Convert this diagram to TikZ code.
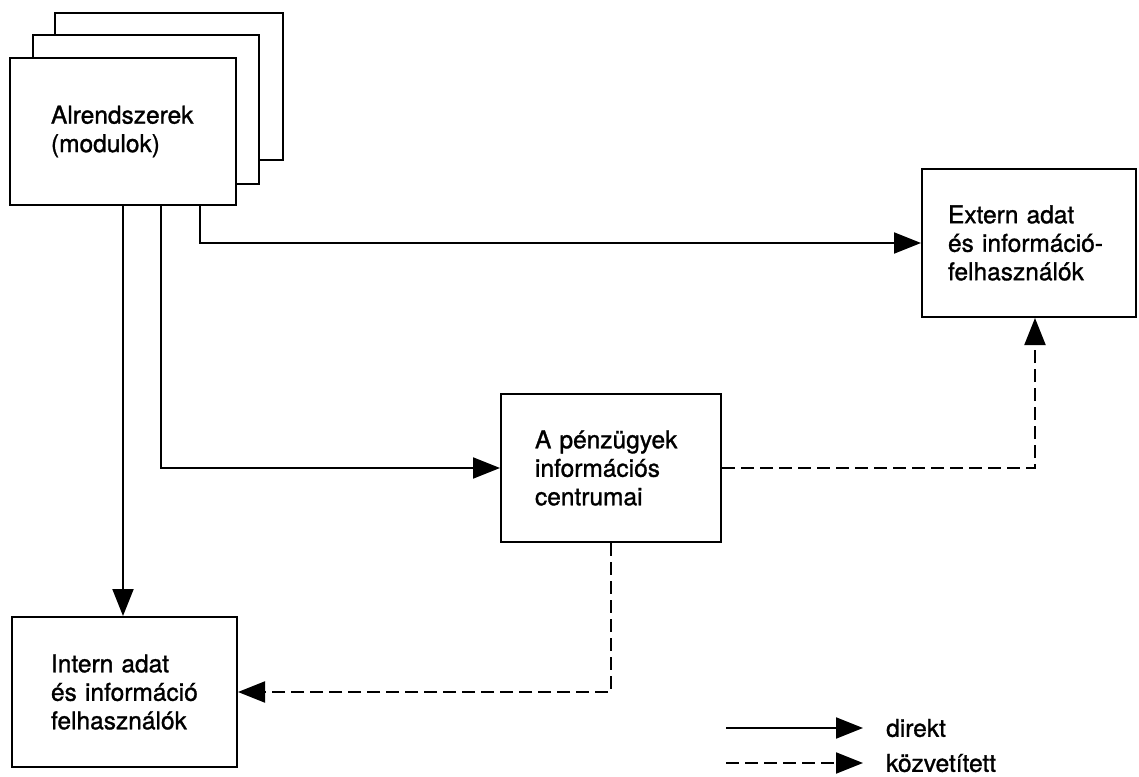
\documentclass[tikz,border=0pt]{standalone}
\usepackage{fontspec}
\setmainfont{TeX Gyre Heros}[FakeBold=1.2]
\usetikzlibrary{arrows.meta}
\newcommand\boxfont{\fontsize{24.5}{28.5}\selectfont\hyphenpenalty=10000\relax\exhyphenpenalty=10000\relax}
\begin{document}
\begin{tikzpicture}[x=1pt,y=-1pt]
  \tikzstyle{every node}=[font=\boxfont]
  \tikzstyle{box}=[draw=black,line width=2pt,fill=white,align=left]
  \tikzstyle{direct}=[line width=2pt,-{Triangle[length=27pt,width=21pt]}]
  \tikzstyle{mediated}=[direct,dash pattern=on 13pt off 6pt]

  \useasboundingbox (0,0) rectangle (1139,776);

  % stacked subsystem boxes
  \node[box,minimum width=228pt,minimum height=147pt] (back) at (169,86.5) {};
  \node[box,minimum width=226pt,minimum height=149pt] (middle) at (146,109.5) {};
  \node[box,text width=144pt,inner xsep=41pt,minimum height=147pt] (modules) at (123,131.5)
    {Alrendszerek\\(modulok)};

  \node[box,text width=162pt,inner xsep=26pt,minimum height=148pt] (extern) at (1029,243)
    {Extern~adat\\és~információ-\\felhasználók};
  \node[box,text width=152pt,inner xsep=34pt,minimum height=148pt] (centre) at (611,468)
    {A~pénzügyek\\információs\\centrumai};
  \node[box,text width=147pt,inner xsep=39pt,minimum height=150pt] (intern) at (124.5,692)
    {Intern~adat\\és~információ\\felhasználók};

  % connectors
  \draw[direct] ([xshift=77pt]modules.south) |- (extern);
  \draw[direct] ([xshift=38pt]modules.south) |- (centre);
  \draw[direct] (modules.south) -- (modules.south |- intern.north);
  \draw[mediated] (centre) -| ([xshift=6pt]extern.south);
  \draw[mediated] (centre) |- (intern);

  % legend
  \coordinate (solidstart) at (726,728);
  \coordinate (dashstart) at (726,763);
  \node[anchor=west,inner sep=0pt] (direkt) at (886,728) {direkt};
  \node[anchor=west,inner sep=0pt] (kozvetitett) at (886,763) {közvetített};
  \draw[direct,shorten >=23pt] (solidstart) -- (direkt.west);
  \draw[mediated,shorten >=23pt] (dashstart) -- (kozvetitett.west);
\end{tikzpicture}
\end{document}
